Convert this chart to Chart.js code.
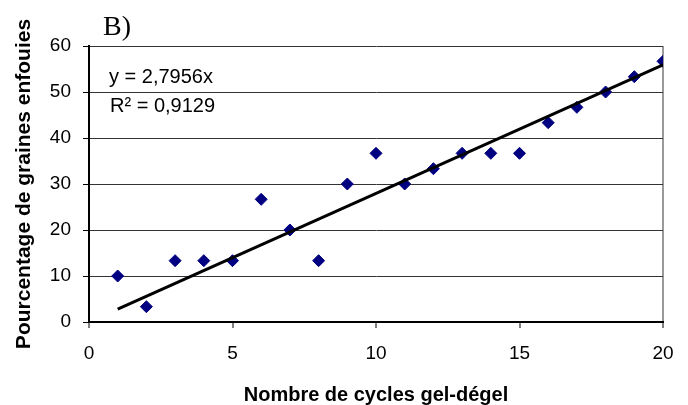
<!DOCTYPE html>
<html>
<head>
<meta charset="utf-8">
<script src="https://cdn.jsdelivr.net/npm/chart.js@4"></script>
<style>
  body { margin: 0; background: #fff; }
  #wrap { width: 688px; height: 405px; }
</style>
</head>
<body>
<div id="wrap"><canvas id="freezeChart" width="688" height="405"></canvas></div>
<script>
// cycles gel-degel vs % graines enfouies
const cycles = [1, 2, 3, 4, 5, 6, 7, 8, 9, 10, 11, 12, 13, 14, 15, 16, 17, 18, 19, 20];
const percentBuried = [10, 3.33, 13.33, 13.33, 13.33, 26.67, 20, 13.33, 30, 36.67,
                       30, 33.33, 36.67, 36.67, 36.67, 43.33, 46.67, 50, 53.33, 56.67];
// linear trend (through origin), endpoints
const trendX = [1, 20];
const trendY = [2.8, 55.9];
const xTicks = [0, 5, 10, 15, 20];
const yTicks = [0, 10, 20, 30, 40, 50, 60];

const panelLabel = 'B)';
const equationText = 'y = 2,7956x';
const r2Text = 'R² = 0,9129';

const textPlugin = {
    id: 'annotations',
    afterDraw(chart) {
        const ctx = chart.ctx;
        ctx.save();
        ctx.fillStyle = '#000';
        ctx.textBaseline = 'alphabetic';
        ctx.textAlign = 'left';
        ctx.font = '28px "Liberation Serif"';
        ctx.fillText(panelLabel, 103, 35);
        ctx.font = '20px "Liberation Sans"';
        ctx.fillText(equationText, 109, 83);
        ctx.fillText(r2Text, 110, 112);
        ctx.restore();
    }
};

const ctx = document.getElementById('freezeChart').getContext('2d');

new Chart(ctx, {
    type: 'scatter',
    data: {
        datasets: [
            {
                label: 'Graines enfouies',
                data: cycles.map((c, i) => ({ x: c, y: percentBuried[i] })),
                pointStyle: 'rectRot',
                pointRadius: 6,
                pointBorderWidth: 1,
                backgroundColor: '#000080',
                borderColor: '#000080',
                order: 1
            },
            {
                label: 'Tendance',
                data: trendX.map((x, i) => ({ x: x, y: trendY[i] })),
                showLine: true,
                pointRadius: 0,
                borderColor: '#000',
                borderWidth: 3,
                order: 0
            }
        ]
    },
    options: {
        responsive: false,
        animation: false,
        layout: {
            padding: { top: 46, right: 25, left: 0, bottom: 0 }
        },
        plugins: {
            legend: { display: false },
            tooltip: { enabled: false }
        },
        scales: {
            x: {
                type: 'linear',
                min: 0,
                max: 20,
                afterFit: function(scale) { scale.height = 83; },
                afterBuildTicks: function(scale) {
                    scale.ticks = xTicks.map(v => ({ value: v }));
                },
                ticks: {
                    padding: 14,
                    color: '#000',
                    font: { family: '"Liberation Sans"', size: 19 }
                },
                grid: {
                    color: function(c) { return c.tick && c.tick.value === 20 ? '#9a9a9a' : 'rgba(0,0,0,0)'; },
                    lineWidth: 2,
                    tickColor: '#000',
                    tickLength: 6,
                    tickWidth: 1
                },
                border: { color: '#000', width: 2 },
                title: {
                    display: true,
                    text: 'Nombre de cycles gel-dégel',
                    color: '#000',
                    padding: { top: 0, bottom: 0 },
                    font: { family: '"Liberation Sans"', size: 20, weight: 'bold', lineHeight: 1 }
                }
            },
            y: {
                min: 0,
                max: 60,
                afterFit: function(scale) { scale.width = 89; },
                afterBuildTicks: function(scale) {
                    scale.ticks = yTicks.map(v => ({ value: v }));
                },
                ticks: {
                    padding: 12,
                    color: '#000',
                    font: { family: '"Liberation Sans"', size: 19 }
                },
                grid: {
                    color: '#333',
                    lineWidth: 1,
                    tickColor: '#000',
                    tickLength: 6
                },
                border: { color: '#000', width: 2 },
                title: {
                    display: true,
                    text: 'Pourcentage de graines enfouies',
                    color: '#000',
                    padding: { top: 14, bottom: 0 },
                    font: { family: '"Liberation Sans"', size: 21, weight: 'bold', lineHeight: 1 }
                }
            }
        }
    },
    plugins: [textPlugin]
});
</script>
</body>
</html>
